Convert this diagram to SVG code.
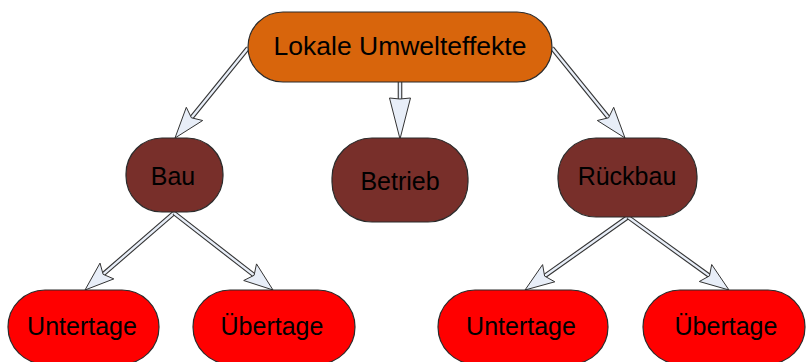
<svg xmlns="http://www.w3.org/2000/svg" width="807" height="362" viewBox="0 0 807 362">
<style>
.node{stroke:#2b2b2b;stroke-width:1.2}
.top{fill:#D8650C}
.mid{fill:#782F2A}
.leaf{fill:#FF0000}
text{font-family:"Liberation Sans",Arial,sans-serif;font-size:25px;fill:#000;text-anchor:middle}
.sh1{stroke:#333;stroke-width:4.6;fill:none}
.sh2{stroke:#E8EEF8;stroke-width:2.4;fill:none}
.head{fill:#E8EEF8;stroke:#333;stroke-width:1;stroke-linejoin:miter}
</style>
<rect width="807" height="362" fill="#fff"/>
<g id="connectors">
  <line class="sh1" x1="248" y1="48" x2="191.4" y2="117.8"/>
  <line class="sh2" x1="248" y1="48" x2="191.4" y2="117.8"/>
  <polygon class="head" points="175,138 186.3,107.3 191.4,117.8 202.7,120.5"/>

  <line class="sh1" x1="400" y1="82" x2="400" y2="99"/>
  <line class="sh2" x1="400" y1="82" x2="400" y2="99"/>
  <polygon class="head" points="400,139 389.5,98 400,99 410.5,98"/>

  <line class="sh1" x1="552" y1="48" x2="608.6" y2="117.8"/>
  <line class="sh2" x1="552" y1="48" x2="608.6" y2="117.8"/>
  <polygon class="head" points="625,138 613.7,107.3 608.6,117.8 597.3,120.5"/>

  <line class="sh1" x1="174" y1="213" x2="103.1" y2="274.3"/>
  <line class="sh2" x1="174" y1="213" x2="103.1" y2="274.3"/>
  <polygon class="head" points="85,290 100,263.1 103.1,274.3 113.8,278.9"/>

  <line class="sh1" x1="174" y1="213" x2="254.1" y2="275.3"/>
  <line class="sh2" x1="174" y1="213" x2="254.1" y2="275.3"/>
  <polygon class="head" points="273,290 256.5,263.9 254.1,275.3 243.7,280.5"/>

  <line class="sh1" x1="628" y1="217" x2="544.6" y2="276.1"/>
  <line class="sh2" x1="628" y1="217" x2="544.6" y2="276.1"/>
  <polygon class="head" points="525,290 542.6,264.6 544.6,276.1 554.8,281.8"/>

  <line class="sh1" x1="628" y1="217" x2="709.5" y2="275.9"/>
  <line class="sh2" x1="628" y1="217" x2="709.5" y2="275.9"/>
  <polygon class="head" points="729,290 711.7,264.5 709.5,275.9 699.3,281.5"/>
</g>
<g id="n-lokale">
  <rect class="node top" x="248" y="12" width="304" height="70" rx="35" ry="35"/>
  <text x="400" y="55" style="font-size:26.5px">Lokale Umwelteffekte</text>
</g>
<g id="n-bau">
  <rect class="node mid" x="126" y="138" width="97" height="74" rx="36" ry="36"/>
  <text x="173" y="185">Bau</text>
</g>
<g id="n-betrieb">
  <rect class="node mid" x="332" y="138" width="136" height="84" rx="40" ry="40"/>
  <text x="400" y="190">Betrieb</text>
</g>
<g id="n-rueckbau">
  <rect class="node mid" x="558" y="138" width="139" height="79" rx="38" ry="38"/>
  <text x="627" y="185">Rückbau</text>
</g>
<g id="n-untertage1">
  <rect class="node leaf" x="8" y="290" width="151" height="74" rx="37" ry="37"/>
  <text x="82" y="335">Untertage</text>
</g>
<g id="n-uebertage1">
  <rect class="node leaf" x="193" y="290" width="162" height="74" rx="37" ry="37"/>
  <text x="272" y="335">Übertage</text>
</g>
<g id="n-untertage2">
  <rect class="node leaf" x="438" y="290" width="170" height="74" rx="37" ry="37"/>
  <text x="521" y="335">Untertage</text>
</g>
<g id="n-uebertage2">
  <rect class="node leaf" x="643" y="290" width="162" height="74" rx="37" ry="37"/>
  <text x="726" y="335">Übertage</text>
</g>
</svg>
